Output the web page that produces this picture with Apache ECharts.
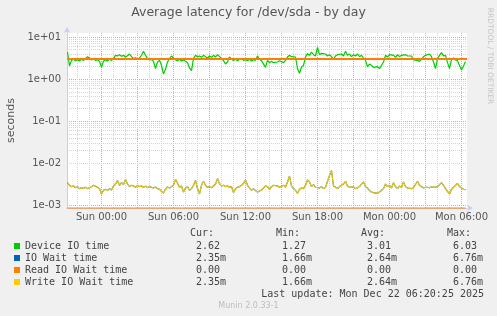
<!DOCTYPE html>
<html><head><meta charset="utf-8">
<script src="https://cdn.jsdelivr.net/npm/echarts@6/dist/echarts.min.js"></script>
<style>html,body{margin:0;padding:0;background:#f0f0f0}#c{width:497px;height:316px}</style>
</head><body><div id="c"></div><script>
// ---- data (seconds), one sample every 10 minutes starting Sat 21:10 (hours relative to Sun 00:00)
const startHour = -2.8333;
const stepHours = 1 / 6;
const deviceIO = [4.40,2.05,2.79,2.95,2.74,2.89,2.69,2.95,2.79,3.06,
3.41,3.17,2.84,3.00,2.79,2.89,2.64,1.90,2.69,2.84,
2.69,2.95,2.79,3.06,3.67,3.54,3.80,3.47,3.67,3.35,
3.60,3.95,3.41,3.06,3.23,2.95,3.17,3.67,4.57,3.67,
3.06,2.84,2.95,2.64,1.77,2.55,2.79,2.12,1.32,1.71,
2.55,3.06,3.54,3.17,2.89,2.74,2.95,2.69,2.84,2.64,
2.46,1.84,1.59,3.06,3.67,3.41,3.54,3.29,3.67,3.41,
3.17,3.54,3.29,3.67,3.35,3.80,3.41,3.06,2.74,2.28,
2.55,3.35,2.95,2.79,2.95,2.74,2.95,3.06,2.79,2.89,
2.74,2.95,2.69,2.89,2.79,3.54,2.95,2.74,2.64,1.90,
2.79,2.46,2.64,2.46,2.69,2.55,2.74,2.55,2.46,2.79,
3.35,3.67,3.41,3.80,3.35,1.77,1.37,1.94,2.12,3.35,
4.02,3.67,4.40,3.80,3.54,5.70,3.80,4.09,3.67,3.95,
3.54,3.80,3.41,2.95,3.54,3.80,3.41,3.95,3.54,4.57,
3.67,3.95,3.41,3.80,3.54,3.95,3.41,3.67,3.17,2.79,
1.97,2.28,2.12,1.90,1.77,1.97,1.77,1.90,2.55,3.67,
3.35,3.80,3.41,3.67,3.29,3.80,3.41,3.67,3.35,3.80,
3.54,3.29,3.54,2.84,2.64,2.79,2.64,2.95,3.41,3.67,
3.29,3.95,3.41,2.55,1.77,3.06,3.67,4.25,3.54,3.67,
2.46,1.77,2.95,3.17,2.84,2.74,2.12,1.64,2.05,2.62];
const ioWait = [3.47e-3,3.00e-3,2.79e-3,2.89e-3,2.64e-3,2.74e-3,2.50e-3,2.64e-3,2.54e-3,2.69e-3,
2.50e-3,2.64e-3,2.79e-3,3.00e-3,2.84e-3,2.69e-3,2.50e-3,1.87e-3,2.28e-3,2.41e-3,
2.24e-3,2.50e-3,2.32e-3,2.89e-3,3.22e-3,3.87e-3,3.00e-3,3.47e-3,3.11e-3,4.16e-3,
3.22e-3,2.79e-3,3.00e-3,2.89e-3,2.69e-3,3.00e-3,2.79e-3,2.89e-3,2.69e-3,2.84e-3,
2.64e-3,2.79e-3,2.69e-3,2.59e-3,2.74e-3,2.50e-3,2.41e-3,2.16e-3,1.97e-3,2.41e-3,
2.74e-3,2.59e-3,2.79e-3,3.00e-3,4.16e-3,3.34e-3,2.69e-3,2.89e-3,2.08e-3,2.59e-3,
2.79e-3,2.28e-3,2.50e-3,3.00e-3,3.94e-3,2.50e-3,1.87e-3,3.00e-3,3.73e-3,3.00e-3,
2.69e-3,2.79e-3,2.64e-3,2.89e-3,3.22e-3,4.31e-3,3.28e-3,2.89e-3,3.00e-3,2.79e-3,
2.89e-3,2.69e-3,2.79e-3,2.01e-3,2.50e-3,2.69e-3,2.79e-3,3.00e-3,3.34e-3,4.01e-3,
3.00e-3,2.59e-3,2.28e-3,2.50e-3,2.24e-3,2.08e-3,1.90e-3,2.32e-3,2.59e-3,2.89e-3,
2.79e-3,2.41e-3,2.79e-3,3.00e-3,2.74e-3,2.89e-3,2.69e-3,2.84e-3,3.00e-3,2.74e-3,
3.60e-3,4.99e-3,2.89e-3,2.50e-3,2.28e-3,1.93e-3,2.41e-3,2.59e-3,2.50e-3,3.00e-3,
4.01e-3,3.60e-3,2.79e-3,3.11e-3,2.69e-3,2.89e-3,2.59e-3,2.79e-3,2.50e-3,2.69e-3,
3.00e-3,5.18e-3,6.76e-3,2.89e-3,2.69e-3,2.50e-3,2.79e-3,3.00e-3,3.22e-3,3.73e-3,
2.89e-3,2.69e-3,2.59e-3,2.74e-3,2.50e-3,2.64e-3,2.79e-3,3.22e-3,3.60e-3,2.79e-3,
2.59e-3,2.24e-3,2.08e-3,2.01e-3,2.16e-3,1.93e-3,2.08e-3,2.01e-3,2.50e-3,3.22e-3,
2.79e-3,3.00e-3,2.59e-3,3.47e-3,2.79e-3,2.50e-3,2.89e-3,2.69e-3,3.60e-3,2.79e-3,
2.59e-3,2.69e-3,2.50e-3,2.64e-3,2.79e-3,3.73e-3,3.00e-3,2.79e-3,2.59e-3,2.69e-3,
2.79e-3,2.64e-3,2.74e-3,2.59e-3,2.69e-3,2.79e-3,3.00e-3,3.47e-3,3.00e-3,2.50e-3,
2.16e-3,1.87e-3,2.41e-3,2.69e-3,2.79e-3,3.34e-3,2.79e-3,2.59e-3,2.41e-3,2.35e-3];
const writeWait = [3.47e-3,3.00e-3,2.79e-3,2.89e-3,2.64e-3,2.74e-3,2.50e-3,2.64e-3,2.54e-3,2.69e-3,
2.50e-3,2.64e-3,2.79e-3,3.00e-3,2.84e-3,2.69e-3,2.50e-3,1.87e-3,2.28e-3,2.41e-3,
2.24e-3,2.50e-3,2.32e-3,2.89e-3,3.22e-3,3.87e-3,3.00e-3,3.47e-3,3.11e-3,4.16e-3,
3.22e-3,2.79e-3,3.00e-3,2.89e-3,2.69e-3,3.00e-3,2.79e-3,2.89e-3,2.69e-3,2.84e-3,
2.64e-3,2.79e-3,2.69e-3,2.59e-3,2.74e-3,2.50e-3,2.41e-3,2.16e-3,1.97e-3,2.41e-3,
2.74e-3,2.59e-3,2.79e-3,3.00e-3,4.16e-3,3.34e-3,2.69e-3,2.89e-3,2.08e-3,2.59e-3,
2.79e-3,2.28e-3,2.50e-3,3.00e-3,3.94e-3,2.50e-3,1.87e-3,3.00e-3,3.73e-3,3.00e-3,
2.69e-3,2.79e-3,2.64e-3,2.89e-3,3.22e-3,4.31e-3,3.28e-3,2.89e-3,3.00e-3,2.79e-3,
2.89e-3,2.69e-3,2.79e-3,2.01e-3,2.50e-3,2.69e-3,2.79e-3,3.00e-3,3.34e-3,4.01e-3,
3.00e-3,2.59e-3,2.28e-3,2.50e-3,2.24e-3,2.08e-3,1.90e-3,2.32e-3,2.59e-3,2.89e-3,
2.79e-3,2.41e-3,2.79e-3,3.00e-3,2.74e-3,2.89e-3,2.69e-3,2.84e-3,3.00e-3,2.74e-3,
3.60e-3,4.99e-3,2.89e-3,2.50e-3,2.28e-3,1.93e-3,2.41e-3,2.59e-3,2.50e-3,3.00e-3,
4.01e-3,3.60e-3,2.79e-3,3.11e-3,2.69e-3,2.89e-3,2.59e-3,2.79e-3,2.50e-3,2.69e-3,
3.00e-3,5.18e-3,6.76e-3,2.89e-3,2.69e-3,2.50e-3,2.79e-3,3.00e-3,3.22e-3,3.73e-3,
2.89e-3,2.69e-3,2.59e-3,2.74e-3,2.50e-3,2.64e-3,2.79e-3,3.22e-3,3.60e-3,2.79e-3,
2.59e-3,2.24e-3,2.08e-3,2.01e-3,2.16e-3,1.93e-3,2.08e-3,2.01e-3,2.50e-3,3.22e-3,
2.79e-3,3.00e-3,2.59e-3,3.47e-3,2.79e-3,2.50e-3,2.89e-3,2.69e-3,3.60e-3,2.79e-3,
2.59e-3,2.69e-3,2.50e-3,2.64e-3,2.79e-3,3.73e-3,3.00e-3,2.79e-3,2.59e-3,2.69e-3,
2.79e-3,2.64e-3,2.74e-3,2.59e-3,2.69e-3,2.79e-3,3.00e-3,3.47e-3,3.00e-3,2.50e-3,
2.16e-3,1.87e-3,2.41e-3,2.69e-3,2.79e-3,3.34e-3,2.79e-3,2.59e-3,2.41e-3,2.35e-3];
const readWait = [0,0,0,0,0,0,0,0,0,0,0,0,0,0,0,0,0,0,0,0,0,0,0,0,0,0,0,0,0,0,0,0,0,0,0,0,0,0,0,0,
0,0,0,0,0,0,0,0,0,0,0,0,0,0,0,0,0,0,0,0,0,0,0,0,0,0,0,0,0,0,0,0,0,0,0,0,0,0,0,0,
0,0,0,0,0,0,0,0,0,0,0,0,0,0,0,0,0,0,0,0,0,0,0,0,0,0,0,0,0,0,0,0,0,0,0,0,0,0,0,0,
0,0,0,0,0,0,0,0,0,0,0,0,0,0,0,0,0,0,0,0,0,0,0,0,0,0,0,0,0,0,0,0,0,0,0,0,0,0,0,0,
0,0,0,0,0,0,0,0,0,0,0,0,0,0,0,0,0,0,0,0,0,0,0,0,0,0,0,0,0,0,0,0,0,0,0,0,0,0,0,0];
const refLine = 3.1;

const seriesNames = ['Device IO time', 'IO Wait time', 'Read IO Wait time', 'Write IO Wait time'];
const seriesColors = ['#00cc00', '#0066b3', '#ff8000', '#ffcc00'];
const curVals = ['2.62', '2.35m', '0.00', '2.35m'];
const minVals = ['1.27', '1.66m', '0.00', '1.66m'];
const avgVals = ['3.01', '2.64m', '0.00', '2.64m'];
const maxVals = ['6.03', '6.76m', '0.00', '6.76m'];
const statHeaders = ['Cur:', 'Min:', 'Avg:', 'Max:'];

const xTickHours = [0, 6, 12, 18, 24, 30];
const xTickLabels = ['Sun 00:00', 'Sun 06:00', 'Sun 12:00', 'Sun 18:00', 'Mon 00:00', 'Mon 06:00'];
const yTickExps = [-3, -2, -1, 0, 1];
const yTickLabels = ['1e-03', '1e-02', '1e-01', '1e+00', '1e+01'];

const titleText = 'Average latency for /dev/sda - by day';
const lastUpdate = 'Last update: Mon Dec 22 06:20:25 2025';
const versionText = 'Munin 2.0.33-1';
const vendorText = 'RRDTOOL / TOBI OETIKER';

// ---- layout / axis range
const MONO = 'DejaVu Sans Mono', SANS = 'DejaVu Sans';
const xMin = -2.875, xMax = 30.458;
const yMin = 0.000867, yMax = 12.45;
const MAJOR = '#f29a9a', MINOR = '#d4d4d4', AXIS = '#c8ccf2', TXT = '#555';

const pts = arr => arr.map((v, i) => [startHour + i * stepHours, v]);
const minorVals = [];
for (let d = -4; d <= 1; d++) for (let k = 2; k <= 9; k++) {
  const v = k * Math.pow(10, d);
  if (v > yMin && v < yMax) minorVals.push(v);
}

const xFmt = v => {
  const k = xTickHours.findIndex(h => Math.abs(h - v) < 1e-6);
  return k >= 0 ? xTickLabels[k] : '';
};
const yFmt = v => {
  const e = Math.round(Math.log10(v));
  const k = yTickExps.indexOf(e);
  return (k >= 0 && Math.abs(Math.log10(v) - e) < 1e-6) ? yTickLabels[k] : '';
};

const chart = echarts.init(document.getElementById('c'));
const lineSeries = (idx, data, z, extra) => Object.assign({
  name: seriesNames[idx], type: 'line', data: data, symbol: 'none', showSymbol: false,
  color: seriesColors[idx], lineStyle: { color: seriesColors[idx], width: 1.2 },
  itemStyle: { color: seriesColors[idx] }, z: z, emphasis: { disabled: true }, silent: true
}, extra || {});

const hdrX = [190, 276, 361, 447];
const graphics = statHeaders.map((h, i) => ({
  type: 'text', x: hdrX[i], y: 233.5,
  style: { text: h, font: '10px ' + MONO, fill: '#444', align: 'left', verticalAlign: 'middle' }
}));
graphics.push({ type: 'text', x: 484, y: 294, style: { text: lastUpdate, font: '10px ' + MONO, fill: '#444', align: 'right', verticalAlign: 'middle' } });
graphics.push({ type: 'text', x: 248.5, y: 305.5, style: { text: versionText, font: '8px ' + SANS, fill: '#bdbdbd', align: 'center', verticalAlign: 'middle' } });
graphics.push({ type: 'text', x: 490, y: 56, rotation: -Math.PI / 2, style: { text: vendorText, font: '7.5px ' + SANS, fill: '#c4c4c4', align: 'center', verticalAlign: 'middle' } });

chart.setOption({
  animation: false,
  backgroundColor: '#f0f0f0',
  title: { text: titleText, left: 'center', top: 6, padding: 0, textStyle: { fontFamily: SANS, fontSize: 12.5, fontWeight: 'normal', color: TXT } },
  grid: { left: 67, top: 33, width: 400, height: 175, show: true, backgroundColor: '#ffffff', borderWidth: 0, containLabel: false, outerBoundsMode: 'none' },
  legend: {
    data: seriesNames, orient: 'vertical', left: 14, top: 240, padding: 0, itemWidth: 6, itemHeight: 6, itemGap: 0,
    icon: 'rect', selectedMode: false,
    textStyle: {
      fontFamily: MONO, fontSize: 10, color: '#444', lineHeight: 12,
      rich: {
        n: { width: 171, fontFamily: MONO, fontSize: 10, color: '#444', lineHeight: 12 },
        v: { width: 86, fontFamily: MONO, fontSize: 10, color: '#444', lineHeight: 12 },
        w: { width: 85, fontFamily: MONO, fontSize: 10, color: '#444', lineHeight: 12 },
        m: { fontFamily: MONO, fontSize: 10, color: '#444', lineHeight: 12 }
      }
    },
    formatter: name => {
      const i = seriesNames.indexOf(name);
      return '{n|' + name + '}{v|' + curVals[i] + '}{w|' + minVals[i] + '}{v|' + avgVals[i] + '}{m|' + maxVals[i] + '}';
    }
  },
  xAxis: [{
    type: 'value', min: xMin, max: xMax, minInterval: 1, maxInterval: 1,
    axisLine: { show: true, onZero: false, lineStyle: { color: AXIS, width: 1 }, symbol: ['none', 'arrow'], symbolSize: [5, 6], symbolOffset: [0, 6] },
    axisTick: { show: false },
    axisLabel: { interval: 0, margin: 4, fontFamily: SANS, fontSize: 10, color: TXT, formatter: xFmt, showMinLabel: false, showMaxLabel: false },
    splitLine: { show: true, showMinLine: false, showMaxLine: false, lineStyle: { color: MINOR, type: [1, 1], width: 1 } }
  }, {
    type: 'value', min: xMin, max: xMax, minInterval: 3, maxInterval: 3,
    axisLine: { show: false }, axisTick: { show: false }, axisLabel: { show: false },
    splitLine: { show: true, showMinLine: false, showMaxLine: false, lineStyle: { color: MAJOR, type: [1, 1], width: 1 } }
  }],
  yAxis: {
    type: 'log', logBase: 10, min: yMin, max: yMax,
    name: 'seconds', nameLocation: 'middle', nameGap: 50, nameRotate: 90,
    nameTextStyle: { fontFamily: SANS, fontSize: 11, color: TXT },
    axisLine: { show: true, onZero: false, lineStyle: { color: AXIS, width: 1 }, symbol: ['none', 'arrow'], symbolSize: [5, 6], symbolOffset: [0, 6] },
    axisTick: { show: false },
    axisLabel: { margin: 6, fontFamily: SANS, fontSize: 10, color: TXT, formatter: yFmt, showMinLabel: false, showMaxLabel: false },
    splitLine: { show: true, showMinLine: false, showMaxLine: false, lineStyle: { color: MAJOR, type: [1, 1], width: 1 } }
  },
  graphic: graphics,
  series: [
    lineSeries(0, pts(deviceIO), 3, {
      markLine: {
        silent: true, symbol: 'none', z: 1, animation: false, label: { show: false }, emphasis: { disabled: true },
        lineStyle: { color: MINOR, type: [1, 1], width: 1 },
        data: minorVals.map(v => ({ yAxis: v }))
      }
    }),
    lineSeries(1, pts(ioWait), 4, { lineStyle: { color: seriesColors[1], width: 1.1 } }),
    lineSeries(3, pts(writeWait), 5, { lineStyle: { color: seriesColors[3], width: 1.2, opacity: 0.93 } }),
    lineSeries(2, pts(readWait.map(v => Math.max(v, yMin))), 6, {
      clip: false, lineStyle: { color: seriesColors[2], width: 1 },
      markLine: {
        silent: true, symbol: 'none', z: 7, animation: false, label: { show: false }, emphasis: { disabled: true },
        lineStyle: { color: seriesColors[2], type: 'solid', width: 2 },
        data: [{ yAxis: refLine }]
      }
    })
  ]
});
</script></body></html>
